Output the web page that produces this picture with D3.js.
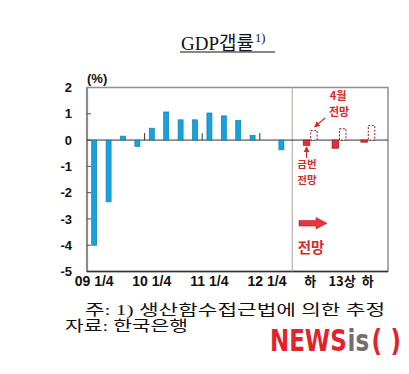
<!DOCTYPE html>
<html><head><meta charset="utf-8">
<script src="https://cdn.jsdelivr.net/npm/d3@7"></script>
<style>
html,body{margin:0;padding:0;background:#fff;}
svg{display:block;}
</style></head>
<body>
<svg id="chart" width="409" height="374"></svg>
<script>
// ---- data ----
const quarters = ["09Q1","09Q2","09Q3","09Q4","10Q1","10Q2","10Q3","10Q4","11Q1","11Q2","11Q3","11Q4","12Q1","12Q2"];
const gdpGap = [-4.0,-2.35,0.15,-0.24,0.45,1.07,0.77,0.77,1.03,0.92,0.74,0.18,0,-0.37];
const forecastPeriods = ["12H2","13H1","13H2"];
const currentForecast = [-0.2,-0.31,-0.08];
const aprilForecast = [0.36,0.43,0.55];
const quarterLabels = {"09Q1":"09 1/4","10Q1":"10 1/4","11Q1":"11 1/4","12Q1":"12 1/4"};
const forecastLabels = ["하","13상","하"];
const yTicks = [2,1,0,-1,-2,-3,-4,-5];

// ---- layout ----
const svg = d3.select("#chart");
const L = 87, R = 388, T = 87.5, B = 271.5;
// slot index scale: quarter i at slot i, forecast period j at slot 15+2j
const slot = d3.scaleLinear().domain([-0.5, 20.4]).range([L, R]);
const y = d3.scaleLinear().domain([-5, 2]).range([B, T]);
const qIndex = d => quarters.indexOf(d);
const fSlot = j => 15 + 2*j;

const red = "#d42a2a";
const sans = "'Liberation Sans', Arial, 'Noto Sans CJK KR', sans-serif";
const kr = "'Noto Sans CJK KR', 'Liberation Sans', sans-serif";
const serif = "'Liberation Serif', 'Noto Sans CJK KR', serif";

// title
const title = svg.append("text").attr("x", 181).attr("y", 50)
  .attr("font-family", serif).attr("font-size", 19).attr("fill", "#111");
title.append("tspan").text("GDP갭률");
title.append("tspan").attr("font-size", 12.5).attr("dy", -8).attr("dx", 1).text("1)");
svg.append("line").attr("x1", 180).attr("x2", 275).attr("y1", 52).attr("y2", 52)
  .attr("stroke", "#111").attr("stroke-width", 1);

// (%) unit
svg.append("text").attr("x", 87).attr("y", 83).attr("font-family", sans)
  .attr("font-weight", "bold").attr("font-size", 13).attr("fill", "#111").text("(%)");

// frame
svg.append("rect").attr("x", L).attr("y", T).attr("width", R - L).attr("height", B - T)
  .attr("fill", "none").attr("stroke", "#8f8f8f").attr("stroke-width", 1.5);
svg.append("line").attr("x1", L).attr("x2", L).attr("y1", T).attr("y2", B)
  .attr("stroke", "#8a8a8a").attr("stroke-width", 2.2);
svg.append("line").attr("x1", L).attr("x2", R).attr("y1", B).attr("y2", B)
  .attr("stroke", "#333").attr("stroke-width", 1.5);

// y axis ticks and labels
svg.append("g").selectAll("line").data(yTicks.filter(d => d > -5 && d < 2)).join("line")
  .attr("x1", L).attr("x2", L + 4).attr("y1", d => y(d)).attr("y2", d => y(d))
  .attr("stroke", "#555").attr("stroke-width", 1);
svg.append("g").selectAll("text").data(yTicks).join("text")
  .attr("x", 72).attr("y", d => y(d)).attr("dy", "0.36em").attr("text-anchor", "end")
  .attr("font-family", sans).attr("font-weight", "bold").attr("font-size", 13).attr("fill", "#111")
  .text(d => d < 0 ? "-" + Math.abs(d) : d);

// separator between actual and forecast
svg.append("line").attr("x1", slot(13.75)).attr("x2", slot(13.75)).attr("y1", T).attr("y2", B)
  .attr("stroke", "#b39f9f").attr("stroke-width", 1);

// zero line
svg.append("line").attr("x1", L).attr("x2", R).attr("y1", y(0)).attr("y2", y(0))
  .attr("stroke", "#333").attr("stroke-width", 1);

// year boundary ticks
const yearStarts = quarters.filter((q, i) => i > 0 && q.endsWith("Q1"));
svg.append("g").selectAll("line").data(yearStarts).join("line")
  .attr("x1", d => slot(qIndex(d) - 0.5)).attr("x2", d => slot(qIndex(d) - 0.5))
  .attr("y1", y(0) - 7).attr("y2", y(0))
  .attr("stroke", "#333").attr("stroke-width", 1);

// actual bars
const bw = 5;
svg.append("g").selectAll("rect").data(quarters.map((q, i) => ({q, v: gdpGap[i]})).filter(d => d.v !== 0)).join("rect")
  .attr("x", d => slot(qIndex(d.q)) - bw/2).attr("width", bw)
  .attr("y", d => y(Math.max(0, d.v))).attr("height", d => Math.abs(y(d.v) - y(0)))
  .attr("fill", "#17a2dc").attr("stroke", "#0d7fb4").attr("stroke-width", 0.7);

// forecast bars
const fw = 6.5, off = 3.7;
svg.append("g").selectAll("rect").data(forecastPeriods.map((p, j) => ({j, v: currentForecast[j]}))).join("rect")
  .attr("x", d => slot(fSlot(d.j)) - off - fw/2).attr("width", fw)
  .attr("y", d => y(Math.max(0, d.v))).attr("height", d => Math.abs(y(d.v) - y(0)))
  .attr("fill", "#e2303a").attr("stroke", "#a31b22").attr("stroke-width", 0.8);
svg.append("g").selectAll("rect").data(forecastPeriods.map((p, j) => ({j, v: aprilForecast[j]}))).join("rect")
  .attr("x", d => slot(fSlot(d.j)) + off - fw/2).attr("width", fw)
  .attr("y", d => y(Math.max(0, d.v))).attr("height", d => Math.abs(y(d.v) - y(0)))
  .attr("fill", "#fff").attr("stroke", "#8c1a20").attr("stroke-width", 1)
  .attr("stroke-dasharray", "2,1.5");

// x labels
const xl = svg.append("g").attr("font-family", sans).attr("font-weight", "bold")
  .attr("font-size", 14).attr("fill", "#111").attr("text-anchor", "middle");
Object.entries(quarterLabels).forEach(([q, lab]) => {
  xl.append("text").attr("x", slot(qIndex(q))).attr("y", 286).text(lab);
});
forecastLabels.forEach((lab, j) => {
  xl.append("text").attr("x", slot(fSlot(j)) + (lab.length > 1 ? 3 : 0)).attr("y", 286)
    .attr("font-family", kr).attr("font-size", 13).text(lab);
});

// annotations
const defs = svg.append("defs");
defs.append("marker").attr("id", "ah").attr("viewBox", "0 0 10 10").attr("refX", 8).attr("refY", 5)
  .attr("markerWidth", 5).attr("markerHeight", 5).attr("orient", "auto")
  .append("path").attr("d", "M0,0L10,5L0,10z").attr("fill", red);

const ann = svg.append("g").attr("font-family", kr).attr("font-weight", "bold").attr("fill", red)
  .attr("text-anchor", "middle");
ann.append("text").attr("x", 338).attr("y", 100).attr("font-size", 11).text("4월");
ann.append("text").attr("x", 339).attr("y", 116).attr("font-size", 11).text("전망");
svg.append("line").attr("x1", 325).attr("y1", 118).attr("x2", slot(fSlot(0)) + off + 1).attr("y2", y(aprilForecast[0]) - 4)
  .attr("stroke", red).attr("stroke-width", 1.2).attr("marker-end", "url(#ah)");
svg.append("line").attr("x1", slot(fSlot(0)) - off).attr("y1", 158).attr("x2", slot(fSlot(0)) - off).attr("y2", y(currentForecast[0]) + 2)
  .attr("stroke", red).attr("stroke-width", 1.2).attr("marker-end", "url(#ah)");
ann.append("text").attr("x", 307).attr("y", 168).attr("font-size", 10.5).text("금번");
ann.append("text").attr("x", 307).attr("y", 183.5).attr("font-size", 10.5).text("전망");

svg.append("path").attr("d", "M299,220.5L316,220.5L316,217.5L327,223.3L316,229L316,226L299,226Z")
  .attr("fill", "#e8343c").attr("stroke", "#c02028").attr("stroke-width", 0.6);
ann.append("text").attr("x", 311).attr("y", 253).attr("font-size", 14.5).text("전망");

// footnotes
svg.append("text").attr("x", 85).attr("y", 315).attr("font-family", serif).attr("font-size", 14.5)
  .attr("fill", "#111").attr("textLength", 300).attr("lengthAdjust", "spacingAndGlyphs")
  .text("주: 1) 생산함수접근법에 의한 추정");
svg.append("text").attr("x", 65).attr("y", 331).attr("font-family", serif).attr("font-size", 14.5)
  .attr("fill", "#111").attr("textLength", 123).attr("lengthAdjust", "spacingAndGlyphs")
  .text("자료: 한국은행");

// watermark logo
const logoFont = "'Liberation Sans Narrow', 'DejaVu Sans Condensed', Arial, sans-serif";
const logoParts = [
  {t: "NEWS", c: "#e2232c", dx: 0},
  {t: "is", c: "#707070", dx: 1},
  {t: "(", c: "#e2232c", dx: 3},
  {t: ")", c: "#e2232c", dx: 10}
];
const logo = svg.append("text").attr("transform", "translate(270,351) scale(0.85,1)")
  .attr("font-family", logoFont).attr("font-weight", "bold").attr("font-size", 30);
logo.selectAll("tspan").data(logoParts).join("tspan")
  .attr("dx", d => d.dx).attr("fill", d => d.c).text(d => d.t);
</script>
</body></html>
